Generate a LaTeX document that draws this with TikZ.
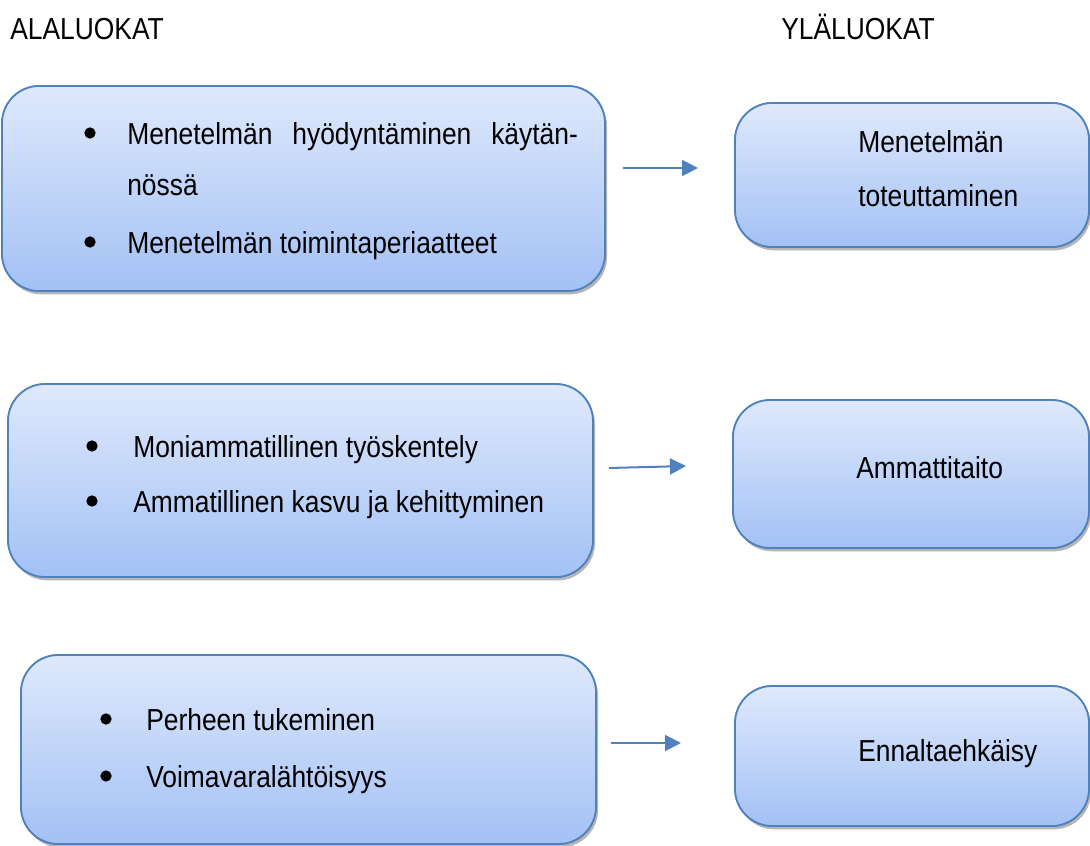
\documentclass[tikz,border=0pt]{standalone}
\usepackage{fontspec}
\setmainfont{Liberation Sans}
\usetikzlibrary{arrows.meta, shadows}

\definecolor{reuna}{HTML}{4F81BD}
\definecolor{ylavari}{HTML}{DFE9FC}
\definecolor{alavari}{HTML}{A3C1F5}

\newcommand{\venyta}[1]{\scalebox{1}[1.15]{#1}}

\tikzset{
  luokka/.style={draw=reuna, line width=1.3pt, rounded corners=28pt,
    top color=ylavari, bottom color=alavari,
    drop shadow={opacity=0.35, shadow xshift=1.5pt, shadow yshift=-2.5pt}},
  teksti/.style={anchor=base west, inner sep=0pt,
    font=\fontsize{19.8pt}{24pt}\selectfont},
  merkki/.style={circle, fill=black, inner sep=0pt, minimum size=8.5pt},
  nuoli/.style={draw=reuna, line width=1.5pt, -{Triangle[length=12pt,width=12pt]}}
}

\begin{document}
\begin{tikzpicture}[x=0.75pt, y=-0.75pt]
    \useasboundingbox (0,0) rectangle (1090,846);

    % Otsikot
    \node[teksti] (ala) at (10,39) {\venyta{ALALUOKAT}};
    \node[teksti] (yla) at (781,39) {\venyta{YLÄLUOKAT}};

    % Laatikot
    \fill[luokka] (2,86) rectangle (605,291);
    \fill[luokka] (735,103) rectangle (1089,247);
    \fill[luokka] (8,384) rectangle (593,577);
    \fill[luokka] (733,400) rectangle (1089,548);
    \fill[luokka] (21,655) rectangle (596,844);
    \fill[luokka] (735,686) rectangle (1089,826);
    \draw[luokka, fill=none] (2,86) rectangle (605,291);
    \draw[luokka, fill=none] (735,103) rectangle (1089,247);
    \draw[luokka, fill=none] (8,384) rectangle (593,577);
    \draw[luokka, fill=none] (733,400) rectangle (1089,548);
    \draw[luokka, fill=none] (21,655) rectangle (596,844);
    \draw[luokka, fill=none] (735,686) rectangle (1089,826);

    % Alaluokat
    \node[merkki] (b1) at (90,133) {};
    \node[teksti] (t1) at (127,144) {\venyta{\makebox[338pt][s]{Menetelmän hyödyntäminen käytän-}}};
    \node[teksti] (t1b) at (127,195) {\venyta{nössä}};
    \node[merkki] (b2) at (90,242) {};
    \node[teksti] (t2) at (127,253) {\venyta{Menetelmän toimintaperiaatteet}};

    \node[merkki] (b3) at (92,446) {};
    \node[teksti] (t3) at (133,457) {\venyta{Moniammatillinen työskentely}};
    \node[merkki] (b4) at (92,501) {};
    \node[teksti] (t4) at (133,512) {\venyta{Ammatillinen kasvu ja kehittyminen}};

    \node[merkki] (b5) at (106,719) {};
    \node[teksti] (t5) at (146,730) {\venyta{Perheen tukeminen}};
    \node[merkki] (b6) at (106,776) {};
    \node[teksti] (t6) at (146,787) {\venyta{Voimavaralähtöisyys}};

    % Yläluokat
    \node[teksti] (y1) at (858,152) {\venyta{Menetelmän}};
    \node[teksti] (y1b) at (858,206) {\venyta{toteuttaminen}};
    \node[teksti] (y2) at (856,478) {\venyta{Ammattitaito}};
    \node[teksti] (y3) at (858,761) {\venyta{Ennaltaehkäisy}};

    % Nuolet
    \coordinate (n1a) at (623,168);
    \coordinate (n1b) at (698,168);
    \coordinate (n2a) at (609,468);
    \coordinate (n2b) at (686,466);
    \coordinate (n3a) at (611,743);
    \coordinate (n3b) at (681,743);
    \draw[nuoli] (n1a) -- (n1b);
    \draw[nuoli] (n2a) -- (n2b);
    \draw[nuoli] (n3a) -- (n3b);
\end{tikzpicture}
\end{document}
